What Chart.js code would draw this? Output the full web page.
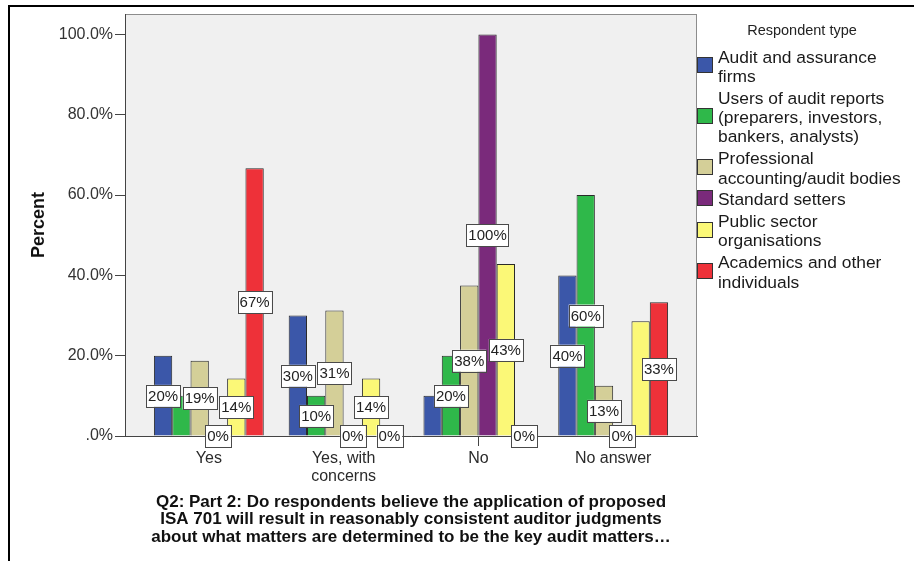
<!DOCTYPE html>
<html>
<head>
<meta charset="utf-8">
<script src="https://cdn.jsdelivr.net/npm/chart.js@4/dist/chart.umd.min.js"></script>
<style>
  html, body { margin: 0; padding: 0; background: #ffffff; }
  #wrap { width: 914px; height: 561px; }
</style>
</head>
<body>
<div id="wrap"><canvas id="c" width="914" height="561"></canvas></div>
<script>
// Response categories (x axis)
const categories = ['Yes', ['Yes, with', 'concerns'], 'No', 'No answer'];

// Percent of each respondent type giving each answer
const auditFirms         = [20, 30, 10, 40];
const auditUsers         = [10, 10, 20, 60];
const professionalBodies = [18.75, 31.25, 37.5, 12.5];
const standardSetters    = [0, 0, 100, 0];
const publicSector       = [14.29, 14.29, 42.86, 28.57];
const academics          = [66.67, 0, 0, 33.33];

// Legend entries (wrapped onto several lines)
const respondentTypes = [
  ['Audit and assurance', 'firms'],
  ['Users of audit reports', '(preparers, investors,', 'bankers, analysts)'],
  ['Professional', 'accounting/audit bodies'],
  ['Standard setters'],
  ['Public sector', 'organisations'],
  ['Academics and other', 'individuals']
];

const yTicks = [0, 20, 40, 60, 80, 100];
const legendTitle = 'Respondent type';
const xTitle = [
  'Q2: Part 2: Do respondents believe the application of proposed',
  'ISA 701 will result in reasonably consistent auditor judgments',
  'about what matters are determined to be the key audit matters\u2026'
];

const seriesValues = [auditFirms, auditUsers, professionalBodies, standardSetters, publicSector, academics];
const seriesColors = ['#3b57a9', '#2fb84a', '#d4cf98', '#7a2a7b', '#fbf877', '#ee3139'];

const FONT = '"Liberation Sans", Arial, sans-serif';
Chart.defaults.font.family = FONT;

const datasets = seriesValues.map((vals, k) => ({
  label: respondentTypes[k].join(' '),
  data: vals.map((v, i) => ({ x: i, y: v })),
  backgroundColor: seriesColors[k],
  borderColor: '#2a2a2a',
  borderWidth: 1,
  categoryPercentage: 0.815,
  barPercentage: 1.0
}));

// Grey plotting panel with a thin frame
const panelPlugin = {
  id: 'panel',
  beforeDraw(chart) {
    const { ctx, chartArea: a } = chart;
    ctx.save();
    ctx.fillStyle = '#ffffff';
    ctx.fillRect(0, 0, chart.width, chart.height);
    ctx.fillStyle = '#f0f0f0';
    ctx.fillRect(a.left, a.top, a.right - a.left, a.bottom - a.top);
    ctx.strokeStyle = '#8c8c8c';
    ctx.lineWidth = 1;
    ctx.strokeRect(a.left + 0.5, a.top + 0.5, a.right - a.left - 1, a.bottom - a.top);
    // outer frame lines (top and left)
    ctx.fillStyle = '#000000';
    ctx.fillRect(8, 5, chart.width - 8, 2);
    ctx.fillRect(8, 5, 2, chart.height - 5);
    ctx.restore();
  }
};

// Value labels in white boxes; a label is left out where it would overlap one already placed
const valueLabelPlugin = {
  id: 'valueLabels',
  afterDatasetsDraw(chart) {
    const { ctx } = chart;
    const yScale = chart.scales.y;
    ctx.save();
    ctx.font = '15px ' + FONT;
    const items = [];
    chart.data.datasets.forEach((ds, k) => {
      const meta = chart.getDatasetMeta(k);
      ds.data.forEach((pt, i) => {
        const el = meta.data[i];
        const text = Math.round(pt.y) + '%';
        const w = ctx.measureText(text).width + 4;
        const h = 22;
        const cx = el.x;
        const cy = yScale.getPixelForValue(pt.y / 2);
        items.push({ v: pt.y, k, text, x0: cx - w / 2, x1: cx + w / 2, y0: cy - h / 2, y1: cy + h / 2, cx, cy });
      });
    });
    items.sort((a, b) => (b.v - a.v) || (a.k - b.k));
    const placed = [];
    items.forEach(it => {
      const hit = placed.some(p => Math.min(p.x1, it.x1) - Math.max(p.x0, it.x0) > 0.5 &&
                                   Math.min(p.y1, it.y1) - Math.max(p.y0, it.y0) > 0.5);
      if (!hit) placed.push(it);
    });
    placed.forEach(it => {
      ctx.fillStyle = '#ffffff';
      ctx.fillRect(it.x0, it.y0, it.x1 - it.x0, it.y1 - it.y0);
      ctx.strokeStyle = '#4a4a4a';
      ctx.lineWidth = 1;
      ctx.strokeRect(Math.round(it.x0) + 0.5, Math.round(it.y0) + 0.5, Math.round(it.x1 - it.x0), Math.round(it.y1 - it.y0));
      ctx.fillStyle = '#222222';
      ctx.textAlign = 'center';
      ctx.textBaseline = 'middle';
      ctx.fillText(it.text, it.cx, it.cy + 1);
    });
    ctx.restore();
  }
};

// Legend on the right with wrapped entry text
const sideLegendPlugin = {
  id: 'sideLegend',
  afterDraw(chart) {
    const { ctx, chartArea: a } = chart;
    ctx.save();
    ctx.fillStyle = '#222222';
    ctx.font = '14.5px ' + FONT;
    ctx.textAlign = 'center';
    ctx.textBaseline = 'middle';
    ctx.fillText(legendTitle, a.right + 105, 31);
    ctx.font = '17.4px ' + FONT;
    ctx.textAlign = 'left';
    const lineH = 19.3, gap = 2.5;
    let y = 58;
    chart.data.datasets.forEach((ds, k) => {
      const lines = respondentTypes[k];
      const first = y;
      lines.forEach((ln, j) => {
        ctx.fillStyle = '#1a1a1a';
        ctx.fillText(ln, a.right + 21, y + j * lineH);
      });
      const last = y + (lines.length - 1) * lineH;
      const mid = (first + last) / 2 - 2.5;
      ctx.fillStyle = ds.backgroundColor;
      ctx.fillRect(a.right + 0.5, Math.round(mid - 8) + 0.5, 15, 15);
      ctx.strokeStyle = '#333333';
      ctx.lineWidth = 1;
      ctx.strokeRect(a.right + 0.5, Math.round(mid - 8) + 0.5, 15, 15);
      y = last + lineH + gap;
    });
    ctx.restore();
  }
};

new Chart(document.getElementById('c'), {
  type: 'bar',
  data: { datasets },
  options: {
    responsive: false,
    maintainAspectRatio: false,
    devicePixelRatio: 1,
    animation: false,
    layout: { padding: { left: 0, top: 14, right: 217, bottom: 0 } },
    plugins: { legend: { display: false }, tooltip: { enabled: false } },
    scales: {
      x: {
        type: 'linear',
        min: -0.622,
        max: 3.622,
        offset: false,
        afterFit(s) { s.height = 125; },
        afterBuildTicks(s) { s.ticks = categories.map((c, i) => ({ value: i })); },
        grid: { offset: false, drawOnChartArea: false, drawTicks: true, tickLength: 10, color: '#444444' },
        border: { display: true, color: '#444444', width: 1 },
        ticks: {
          autoSkip: false, maxRotation: 0, padding: 3,
          color: '#2a2a2a',
          font: { size: 16, lineHeight: 1.15 },
          callback: v => categories[v]
        },
        title: {
          display: true,
          text: xTitle,
          color: '#111111',
          font: { size: 17, weight: 'bold', lineHeight: 1.03 },
          padding: { top: 0, bottom: 15 }
        }
      },
      y: {
        min: 0,
        max: 105.1,
        afterFit(s) { s.width = 125; },
        afterBuildTicks(s) { s.ticks = yTicks.map(v => ({ value: v })); },
        grid: { drawOnChartArea: false, drawTicks: true, tickLength: 10, color: '#444444' },
        border: { display: true, color: '#444444', width: 1 },
        ticks: {
          padding: 2,
          color: '#333333',
          font: { size: 16 },
          callback: v => (v === 0 ? '.0%' : v.toFixed(1) + '%')
        },
        title: {
          display: true,
          text: 'Percent',
          color: '#111111',
          font: { size: 18, weight: 'bold', lineHeight: 1.2 },
          padding: { top: 28, bottom: 0 }
        }
      }
    }
  },
  plugins: [panelPlugin, valueLabelPlugin, sideLegendPlugin]
});
</script>
</body>
</html>
